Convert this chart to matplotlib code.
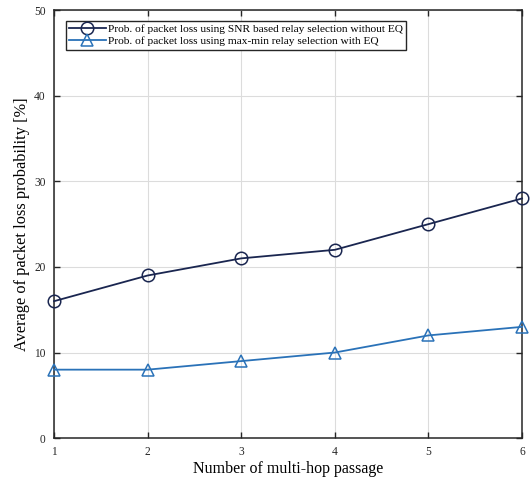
import numpy as np
import matplotlib
matplotlib.use("Agg")
import matplotlib.pyplot as plt

plt.rcParams['font.family'] = ['Liberation Serif', 'DejaVu Serif']

hops = [1, 2, 3, 4, 5, 6]
loss_snr = [16, 19, 21, 22, 25, 28]      # SNR based relay selection, no EQ
loss_maxmin = [8, 8, 9, 10, 12, 13]      # max-min relay selection with EQ

fig = plt.figure(figsize=(5.3, 4.82), dpi=100)
ax = fig.add_axes([0.102, 0.091, 0.883, 0.888])

ax.plot(hops, loss_snr, marker="o", ms=9, mfc="none", mew=1.1, lw=1.3, clip_on=False, zorder=3,
        color="#1a2650", label="Prob. of packet loss using SNR based relay selection without EQ")
ax.plot(hops, loss_maxmin, marker="^", ms=9, mfc="none", mew=1.1, lw=1.3, clip_on=False, zorder=3,
        color="#2a72b8", label="Prob. of packet loss using max-min relay selection with EQ")

ax.set_xlim(1, 6)
ax.set_ylim(0, 50)
ax.set_xticks(hops)
ax.set_yticks([0, 10, 20, 30, 40, 50])
ax.grid(True, color="#dcdcdc", lw=0.8)
ax.set_axisbelow(True)
ax.tick_params(direction="in", top=True, right=True, labelsize=8.3, length=4, width=1,
               colors="#262626", pad=6)
for s in ax.spines.values():
    s.set_linewidth(1.1)
    s.set_color("#262626")

ax.set_xlabel("Number of multi-hop passage", fontsize=11.5, labelpad=2)
ax.set_ylabel("Average of packet loss probability [%]", fontsize=11.8, labelpad=3)

leg = ax.legend(loc="upper left", bbox_to_anchor=(0.025, 0.975), fontsize=8.2, fancybox=False,
                framealpha=1, edgecolor="#262626", handlelength=3.2, handletextpad=0.2,
                borderpad=0.3, labelspacing=0.2, borderaxespad=0.0)
leg.get_frame().set_linewidth(1.0)

fig.savefig("out.png", dpi=100)
